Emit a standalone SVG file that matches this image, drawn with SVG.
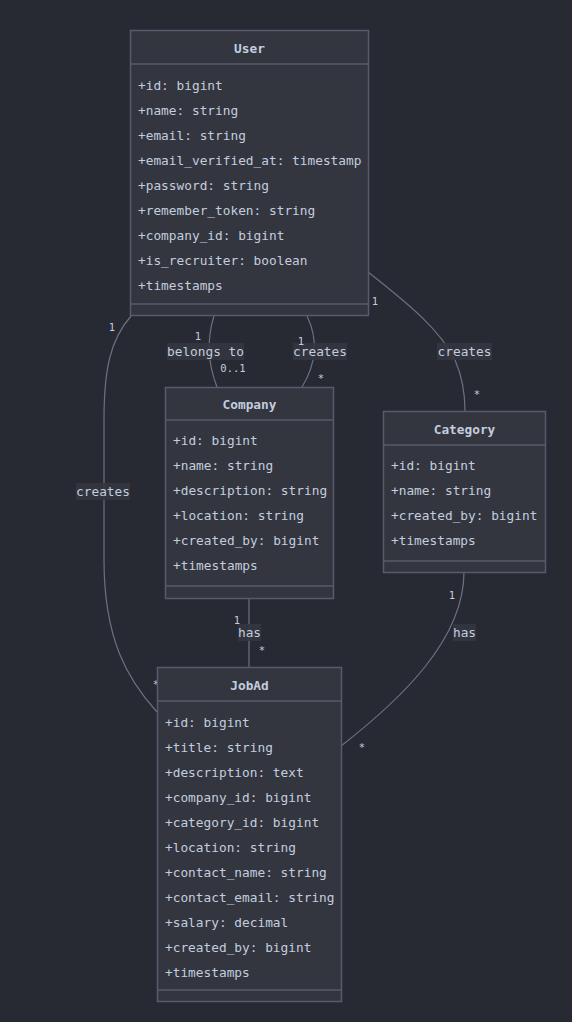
<svg xmlns="http://www.w3.org/2000/svg" width="572" height="1022" viewBox="0 0 572 1022">
<style>
.bg{fill:#282a33}
.box{fill:#33363f;stroke:#565c6d;stroke-width:1.5}
.sep{stroke:#565c6d;stroke-width:1.5}
.t{font-family:"DejaVu Sans Mono","Liberation Mono",monospace;font-size:12.8px;fill:#c3cddf}
.h{font-family:"DejaVu Sans Mono","Liberation Mono",monospace;font-size:12.8px;font-weight:bold;fill:#c3cddf;text-anchor:middle}
.edge{fill:none;stroke:#6b7183;stroke-width:1.2}
.lb{fill:#33363f;opacity:0.9}
.lt{font-family:"DejaVu Sans Mono","Liberation Mono",monospace;font-size:12.8px;fill:#c3cddf;text-anchor:middle}
.c{font-family:"DejaVu Sans Mono","Liberation Mono",monospace;font-size:10.5px;fill:#c3cddf;text-anchor:middle}
</style>
<rect class="bg" x="0" y="0" width="572" height="1022"/>
<g id="connectors">
<path class="edge" d="M214,316 Q203,351 217,387"/>
<path class="edge" d="M307,316 Q324,351 302,387"/>
<path class="edge" d="M368,272 C410,305 440,330 455,360 C462,376 465,392 465,411"/>
<path class="edge" d="M131,316 C110,340 104,370 104,420 L104,560 C104,640 128,680 157,712"/>
<path class="edge" d="M249,598 L249,667"/>
<path class="edge" d="M464,572 C464,640 400,700 341,746"/>
<rect class="lb" x="167" y="343" width="77" height="17"/>
<text class="lt" x="205.5" y="356">belongs to</text>
<rect class="lb" x="293" y="343" width="54" height="17"/>
<text class="lt" x="320" y="356">creates</text>
<rect class="lb" x="437" y="343" width="55" height="17"/>
<text class="lt" x="464.5" y="356">creates</text>
<rect class="lb" x="76" y="483" width="54" height="17"/>
<text class="lt" x="103" y="496">creates</text>
<rect class="lb" x="238" y="624" width="23" height="17"/>
<text class="lt" x="249.5" y="637">has</text>
<rect class="lb" x="453" y="624" width="23" height="17"/>
<text class="lt" x="464.5" y="637">has</text>
<text class="c" x="198" y="340">1</text>
<text class="c" x="233" y="372">0..1</text>
<text class="c" x="301" y="345">1</text>
<text class="c" x="321" y="382">*</text>
<text class="c" x="375" y="305">1</text>
<text class="c" x="477" y="398">*</text>
<text class="c" x="112" y="331">1</text>
<text class="c" x="156" y="688">*</text>
<text class="c" x="237" y="624">1</text>
<text class="c" x="262" y="654">*</text>
<text class="c" x="452" y="599">1</text>
<text class="c" x="362" y="751">*</text>
</g>
<g id="User">
<rect class="box" x="130.5" y="30.5" width="238" height="285"/>
<line class="sep" x1="130.5" y1="64" x2="368.5" y2="64"/>
<line class="sep" x1="130.5" y1="304" x2="368.5" y2="304"/>
<text class="h" x="249.5" y="52.5">User</text>
<text class="t" x="138" y="89.5">+id: bigint</text>
<text class="t" x="138" y="114.5">+name: string</text>
<text class="t" x="138" y="139.5">+email: string</text>
<text class="t" x="138" y="164.5">+email_verified_at: timestamp</text>
<text class="t" x="138" y="189.5">+password: string</text>
<text class="t" x="138" y="214.5">+remember_token: string</text>
<text class="t" x="138" y="239.5">+company_id: bigint</text>
<text class="t" x="138" y="264.5">+is_recruiter: boolean</text>
<text class="t" x="138" y="289.5">+timestamps</text>
</g>
<g id="Company">
<rect class="box" x="165.5" y="387.5" width="168" height="211"/>
<line class="sep" x1="165.5" y1="420" x2="333.5" y2="420"/>
<line class="sep" x1="165.5" y1="586" x2="333.5" y2="586"/>
<text class="h" x="249.5" y="408.5">Company</text>
<text class="t" x="173" y="444.5">+id: bigint</text>
<text class="t" x="173" y="469.5">+name: string</text>
<text class="t" x="173" y="494.5">+description: string</text>
<text class="t" x="173" y="519.5">+location: string</text>
<text class="t" x="173" y="544.5">+created_by: bigint</text>
<text class="t" x="173" y="569.5">+timestamps</text>
</g>
<g id="Category">
<rect class="box" x="383.5" y="411.5" width="162" height="161"/>
<line class="sep" x1="383.5" y1="445" x2="545.5" y2="445"/>
<line class="sep" x1="383.5" y1="561" x2="545.5" y2="561"/>
<text class="h" x="464.5" y="433.5">Category</text>
<text class="t" x="391" y="469.5">+id: bigint</text>
<text class="t" x="391" y="494.5">+name: string</text>
<text class="t" x="391" y="519.5">+created_by: bigint</text>
<text class="t" x="391" y="544.5">+timestamps</text>
</g>
<g id="JobAd">
<rect class="box" x="157.5" y="667.5" width="184" height="334"/>
<line class="sep" x1="157.5" y1="701" x2="341.5" y2="701"/>
<line class="sep" x1="157.5" y1="990" x2="341.5" y2="990"/>
<text class="h" x="249.5" y="689.5">JobAd</text>
<text class="t" x="165" y="726.5">+id: bigint</text>
<text class="t" x="165" y="751.5">+title: string</text>
<text class="t" x="165" y="776.5">+description: text</text>
<text class="t" x="165" y="801.5">+company_id: bigint</text>
<text class="t" x="165" y="826.5">+category_id: bigint</text>
<text class="t" x="165" y="851.5">+location: string</text>
<text class="t" x="165" y="876.5">+contact_name: string</text>
<text class="t" x="165" y="901.5">+contact_email: string</text>
<text class="t" x="165" y="926.5">+salary: decimal</text>
<text class="t" x="165" y="951.5">+created_by: bigint</text>
<text class="t" x="165" y="976.5">+timestamps</text>
</g>
</svg>
